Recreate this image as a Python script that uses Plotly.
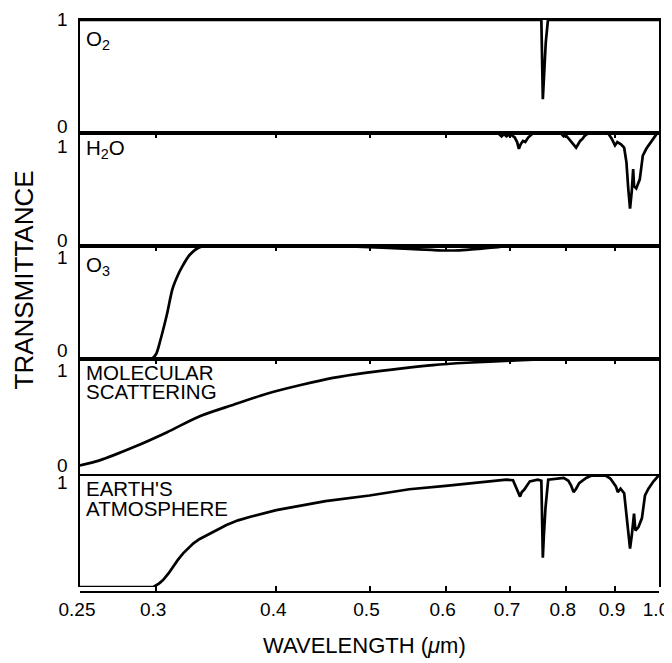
import math
import plotly.graph_objects as go

# ---------------- data ----------------
X_TICK_VALS = [0.25, 0.3, 0.4, 0.5, 0.6, 0.7, 0.8, 0.9, 1.0]
X_TICK_TEXT = ["0.25", "0.3", "0.4", "0.5", "0.6", "0.7", "0.8", "0.9", "1.0"]
INNER_TICKS = [0.3, 0.4, 0.5, 0.6, 0.7, 0.8, 0.9]

PANEL_LABELS = [["O<sub>2</sub>"], ["H<sub>2</sub>O"], ["O<sub>3</sub>"],
                ["MOLECULAR", "SCATTERING"], ["EARTH'S", "ATMOSPHERE"]]

O2_WL = [0.25, 0.700, 0.7545, 0.7572, 0.7590, 0.7625, 0.7665, 0.80, 1.0]
O2_T = [1.0, 1.0, 1.0, 0.30, 0.50, 0.80, 1.0, 1.0, 1.0]

H2O_WL = [0.25, 0.680, 0.686, 0.690, 0.694, 0.700, 0.708, 0.712, 0.715, 0.718,
          0.722, 0.726, 0.731, 0.740, 0.790, 0.796, 0.800, 0.805, 0.810, 0.815,
          0.820, 0.824, 0.828, 0.833, 0.837, 0.845, 0.885, 0.893, 0.897, 0.900,
          0.905, 0.913, 0.920, 0.925, 0.929, 0.933, 0.937, 0.940, 0.942, 0.947,
          0.955, 0.962, 0.970, 0.982, 0.994, 1.0]
H2O_T = [1.0, 1.0, 0.97, 0.99, 0.97, 0.99, 0.96, 0.92, 0.86, 0.90,
         0.93, 0.92, 0.96, 1.0, 1.0, 0.97, 0.98, 0.95, 0.92, 0.90,
         0.87, 0.90, 0.93, 0.95, 0.975, 1.0, 1.0, 0.95, 0.92, 0.89,
         0.92, 0.90, 0.87, 0.74, 0.51, 0.33, 0.49, 0.68, 0.53, 0.51,
         0.59, 0.80, 0.86, 0.93, 0.99, 1.0]

O3_WL = [0.25, 0.297, 0.300, 0.303, 0.306, 0.308, 0.312, 0.316, 0.319, 0.325,
         0.333, 0.340, 0.45, 0.50, 0.55, 0.58, 0.60, 0.62, 0.65, 0.68, 0.70, 1.0]
O3_T = [0.0, 0.0, 0.04, 0.16, 0.30, 0.40, 0.62, 0.74, 0.81, 0.92,
        0.99, 1.0, 1.0, 0.99, 0.975, 0.965, 0.96, 0.962, 0.975, 0.99, 1.0, 1.0]

MS_WL = [0.25, 0.262, 0.284, 0.308, 0.333, 0.361, 0.391, 0.423, 0.458, 0.497,
         0.538, 0.582, 0.631, 0.683, 0.740, 0.79, 0.87, 1.0]
MS_T = [0.074, 0.118, 0.231, 0.362, 0.50, 0.60, 0.695, 0.768, 0.832, 0.878,
        0.913, 0.943, 0.963, 0.977, 0.989, 0.995, 0.999, 1.0]

EA_WL = [0.25, 0.298, 0.302, 0.305, 0.309, 0.3124, 0.316, 0.320, 0.324, 0.328,
         0.333, 0.339, 0.346, 0.355, 0.365, 0.376, 0.40, 0.45, 0.50, 0.55,
         0.60, 0.651, 0.694, 0.705, 0.710, 0.714, 0.717, 0.720, 0.724, 0.734,
         0.748, 0.7545, 0.7572, 0.759, 0.762, 0.767, 0.796, 0.805, 0.810, 0.815,
         0.820, 0.826, 0.840, 0.850, 0.880, 0.890, 0.897, 0.902, 0.906, 0.912,
         0.920, 0.925, 0.933, 0.937, 0.942, 0.945, 0.952, 0.960, 0.967, 0.975,
         0.987, 1.0]
EA_T = [0.0, 0.0, 0.03, 0.062, 0.12, 0.18, 0.24, 0.298, 0.345, 0.387,
        0.425, 0.46, 0.505, 0.549, 0.59, 0.622, 0.68, 0.76, 0.81, 0.865,
        0.895, 0.929, 0.95, 0.945, 0.89, 0.84, 0.80, 0.84, 0.86, 0.935,
        0.95, 0.94, 0.26, 0.45, 0.70, 0.95, 0.965, 0.94, 0.90, 0.84,
        0.87, 0.92, 0.965, 0.985, 0.985, 0.96, 0.92, 0.89, 0.84, 0.87,
        0.83, 0.64, 0.34, 0.46, 0.65, 0.50, 0.53, 0.61, 0.81, 0.87,
        0.935, 0.99]

SERIES = [(O2_WL, O2_T, "linear"), (H2O_WL, H2O_T, "linear"),
          (O3_WL, O3_T, "spline"), (MS_WL, MS_T, "spline"),
          (EA_WL, EA_T, "linear")]

# ---------------- layout geometry ----------------
OFF = 8                      # page offset of the plot div (body margin)
W, H = 672 - OFF, 663 - OFF
ML, MR, MT, MB = 80 - OFF, W - (659 - OFF), 20 - OFF, H - (592 - OFF)
PH = 592 - 20
PW = 659 - 80
def py(pix):  # page pixel row -> paper fraction
    return (592 - pix) / PH
def px(pix):  # page pixel column -> paper fraction
    return (pix - 80) / PW

BOUNDS = [20, 133, 246, 358.5, 474, 587]
DOMAINS = [[py(BOUNDS[i + 1]), py(BOUNDS[i])] for i in range(5)]
XR = [math.log10(0.25), math.log10(1.0)]

FONT = "Liberation Sans, Arial, sans-serif"
LW_FRAME = 2.3
LW_CURVE = 2.7

fig = go.Figure()
for i, (wl, tr, shape) in enumerate(SERIES, start=1):
    s = "" if i == 1 else str(i)
    xa = "x6" if i == 5 else "x" + s
    fig.add_trace(go.Scatter(x=wl, y=tr, mode="lines",
                             line=dict(color="black", width=LW_CURVE, shape=shape, smoothing=0.8),
                             xaxis=xa, yaxis="y" + s, showlegend=False, hoverinfo="skip"))

layout = dict(width=W, height=H, margin=dict(l=ML, r=MR, t=MT, b=MB, autoexpand=False),
              paper_bgcolor="white", plot_bgcolor="white",
              font=dict(family=FONT, color="black", size=19))

for i in range(1, 6):
    s = "" if i == 1 else str(i)
    layout["xaxis" + s] = dict(domain=[0, 1], anchor="y" + s, type="log", range=XR,
                               showline=True, linecolor="black", linewidth=LW_FRAME, mirror=True,
                               side="top", ticks="inside" if i > 1 else "",
                               tickvals=INNER_TICKS, ticklen=5, tickwidth=1.6, tickcolor="black",
                               showticklabels=False, showgrid=False, zeroline=False)
    layout["yaxis" + s] = dict(domain=DOMAINS[i - 1], anchor="x" + s, range=[0, 1],
                               showline=True, linecolor="black", linewidth=LW_FRAME, mirror=True,
                               ticks="", showticklabels=False, showgrid=False, zeroline=False)

layout["xaxis6"] = dict(overlaying="x5", anchor="free", position=0, side="bottom",
                        type="log", range=XR, showline=True, linecolor="black", linewidth=LW_FRAME,
                        ticks="inside", ticklen=5, tickwidth=1.6, tickcolor="black",
                        tickvals=X_TICK_VALS, ticktext=X_TICK_TEXT, ticklabelshift=-3,
                        tickfont=dict(size=19, family=FONT, color="black"),
                        showgrid=False, zeroline=False)

ann = []
# y "1"/"0" labels
ONE_SHIFT = [1, -13, -11, -11.5, -8]
ZERO_SHIFT = [7, 6, 8.5, 9]
for i in range(1, 6):
    s = "" if i == 1 else str(i)
    ann.append(dict(text="1", x=px(62), xref="paper", y=1, yref="y" + s,
                    xanchor="center", yanchor="middle", yshift=ONE_SHIFT[i - 1],
                    showarrow=False, font=dict(size=19)))
    if i < 5:
        ann.append(dict(text="0", x=px(62), xref="paper", y=0, yref="y" + s,
                        xanchor="center", yanchor="middle", yshift=ZERO_SHIFT[i - 1],
                        showarrow=False, font=dict(size=19)))

# panel labels
LABEL_ROWS = [[40], [149.5], [266], [373, 391.5], [488.5, 508.5]]
for lab, rows in zip(PANEL_LABELS, LABEL_ROWS):
    for t, r in zip(lab, rows):
        ann.append(dict(text=t, x=px(84), xref="paper", y=py(r), yref="paper",
                        xanchor="left", yanchor="middle", showarrow=False,
                        font=dict(size=20.5)))

ann.append(dict(text="TRANSMITTANCE", textangle=-90, x=px(23.5),
                xref="paper", y=py(280), yref="paper", xanchor="center", yanchor="middle",
                showarrow=False, font=dict(size=26)))
ann.append(dict(text="WAVELENGTH (<i>μ</i>m)", x=px(364), xref="paper",
                y=py(645), yref="paper", xanchor="center", yanchor="middle",
                showarrow=False, font=dict(size=22)))
layout["annotations"] = ann

fig.update_layout(**layout)
fig.write_html("out.html")
